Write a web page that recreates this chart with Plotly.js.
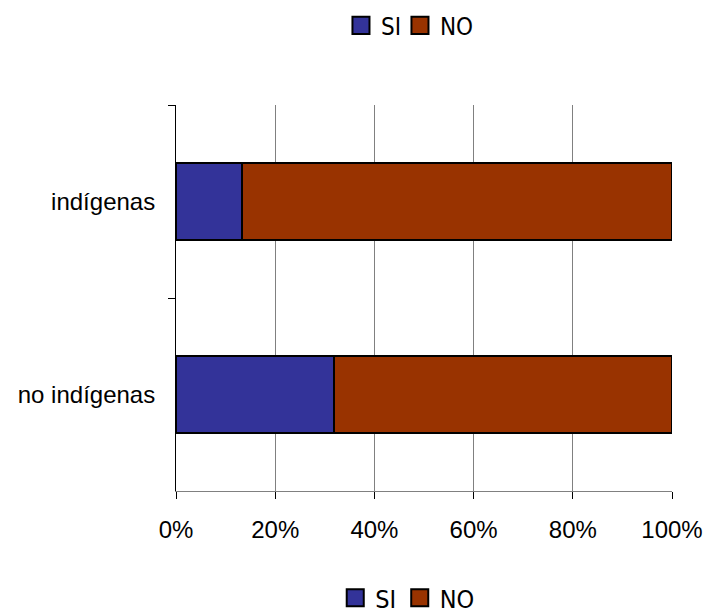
<!DOCTYPE html>
<html>
<head>
<meta charset="utf-8">
<script src="https://cdn.plot.ly/plotly-3.0.1.min.js"></script>
<style>
html,body{margin:0;padding:0;background:#fff;}
#chart{width:708px;height:614px;}
#chart .scrollbox{clip-path:none !important;}
</style>
</head>
<body>
<div id="chart"></div>
<script>
const categories = ['indígenas', 'no indígenas'];
const seriesNames = ['SI', 'NO'];
const siValues = [13.4, 31.8];
const noValues = [86.6, 68.2];
const xTickVals = [0, 20, 40, 60, 80, 100];
const xTickText = ['0%', '20%', '40%', '60%', '80%', '100%'];
const colors = ['#333399', '#993300'];

const values = [siValues, noValues];
const traces = [];
// main bars (top legend)
seriesNames.forEach((name, i) => {
  traces.push({
    type: 'bar', orientation: 'h', name: name,
    x: values[i], y: categories,
    width: 0.4,
    marker: {color: colors[i], line: {color: '#000', width: 2}},
    legend: 'legend'
  });
});
// identical bars on an overlaid hidden axis, feeding the bottom legend
seriesNames.forEach((name, i) => {
  traces.push({
    type: 'bar', orientation: 'h', name: name,
    x: values[i], y: categories, yaxis: 'y2',
    width: 0.4,
    marker: {color: colors[i], line: {color: '#000', width: 2}},
    legend: 'legend2'
  });
});

const narrow = 'DejaVu Sans Condensed, Liberation Sans Narrow, Liberation Sans, Arial, sans-serif';

const layout = {
  width: 708, height: 614,
  margin: {l: 176, r: 36, t: 105, b: 123},
  barmode: 'stack',
  paper_bgcolor: '#fff', plot_bgcolor: '#fff',
  font: {family: 'Liberation Sans, Arial, sans-serif', size: 24, color: '#000'},
  xaxis: {
    range: [0, 100], tickvals: xTickVals, ticktext: xTickText,
    showgrid: true, gridcolor: '#808080', gridwidth: 1,
    zeroline: false, showline: true, linecolor: '#808080', linewidth: 1,
    ticks: 'outside', ticklen: 7, tickcolor: '#000', tickwidth: 1,
    tickfont: {size: 24}, ticklabelstandoff: 10, fixedrange: true
  },
  yaxis: {
    type: 'category', autorange: 'reversed',
    showgrid: false, zeroline: false,
    showline: true, linecolor: '#000', linewidth: 1,
    ticks: 'outside', tickson: 'boundaries', ticklen: 7, tickcolor: '#000',
    tickfont: {size: 24}, ticklabelstandoff: 15, fixedrange: true
  },
  yaxis2: {
    type: 'category', autorange: 'reversed', overlaying: 'y',
    visible: false, fixedrange: true
  },
  showlegend: true,
  legend: {
    orientation: 'h', xref: 'container', yref: 'container', traceorder: 'normal',
    x: 0.4816, xanchor: 'left', y: 0.958, yanchor: 'middle',
    font: {family: narrow, size: 24},
    itemwidth: 30, entrywidth: 14, bgcolor: 'rgba(0,0,0,0)'
  },
  legend2: {
    orientation: 'h', xref: 'container', yref: 'container', traceorder: 'normal',
    x: 0.4735, xanchor: 'left', y: 0.026, yanchor: 'middle',
    font: {family: narrow, size: 25},
    itemwidth: 30, entrywidth: 19.5, bgcolor: 'rgba(0,0,0,0)'
  }
};

Plotly.newPlot('chart', traces, layout, {displayModeBar: false, staticPlot: true}).then(gd => {
  gd.querySelectorAll('.legendpoints path').forEach(p => {
    const t = p.getAttribute('transform') || '';
    p.setAttribute('transform', t + ' scale(1.42)');
    p.style.strokeWidth = '1.4px';
  });
});
</script>
</body>
</html>
